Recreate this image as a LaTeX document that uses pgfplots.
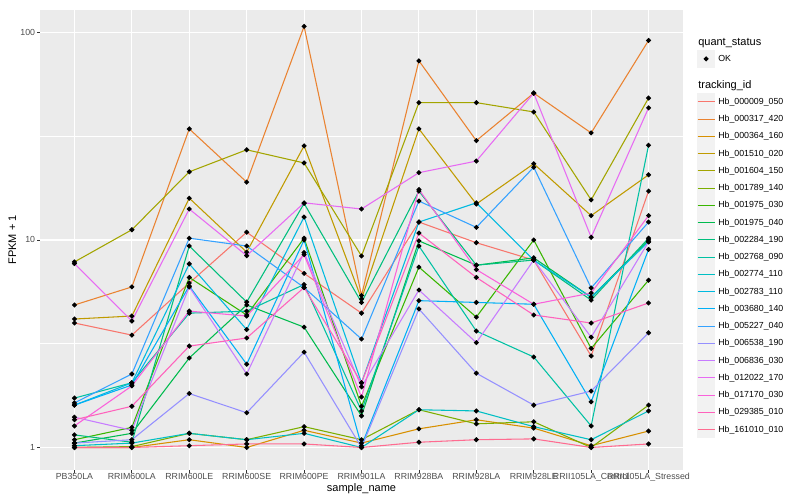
\documentclass[border=0pt]{standalone}
\usepackage{fontspec}
\setmainfont{Liberation Sans}
\usepackage{pgfplots}
\usepackage{pgfplotstable}
\pgfplotsset{compat=1.18}
\definecolor{c1}{HTML}{F8766D}
\definecolor{c2}{HTML}{EA8331}
\definecolor{c3}{HTML}{D89000}
\definecolor{c4}{HTML}{C09B00}
\definecolor{c5}{HTML}{A3A500}
\definecolor{c6}{HTML}{7CAE00}
\definecolor{c7}{HTML}{39B600}
\definecolor{c8}{HTML}{00BB4E}
\definecolor{c9}{HTML}{00BF7D}
\definecolor{c10}{HTML}{00C1A3}
\definecolor{c11}{HTML}{00BFC4}
\definecolor{c12}{HTML}{00BAE0}
\definecolor{c13}{HTML}{00B0F6}
\definecolor{c14}{HTML}{35A2FF}
\definecolor{c15}{HTML}{9590FF}
\definecolor{c16}{HTML}{C77CFF}
\definecolor{c17}{HTML}{E76BF3}
\definecolor{c18}{HTML}{FA62DB}
\definecolor{c19}{HTML}{FF62BC}
\definecolor{c20}{HTML}{FF6C91}
\definecolor{panelgrey}{HTML}{EBEBEB}
\definecolor{keyfill}{HTML}{F2F2F2}
\definecolor{grey30}{HTML}{4D4D4D}
\definecolor{grey20}{HTML}{333333}

\pgfplotstableread{
x s1 s2 s3 s4 s5 s6 s7 s8 s9 s10 s11 s12 s13 s14 s15 s16 s17 s18 s19 s20
0 3.98 4.86 1.0 4.16 7.84 1.0 1.09 1.05 1.15 1.73 1.02 1.60 1.60 1.64 1.05 1.40 7.7 1.27 1.36 1.0
1 3.48 5.94 1.0 4.30 11.2 1.01 1.25 1.17 1.06 2.05 1.05 2.05 2.0 2.26 1.09 1.21 4.07 1.98 1.58 1.0
2 6.2 34.3 1.09 15.9 21.3 1.17 6.6 2.70 9.35 4.44 1.17 7.67 6.0 10.2 1.82 5.94 14.1 4.54 3.08 1.02
3 10.9 19.0 1.0 8.74 27.2 1.09 4.35 4.86 5.02 4.54 1.09 3.7 2.52 9.35 1.47 2.26 8.4 4.3 3.37 1.04
4 6.9 107 1.21 28.4 23.5 1.26 10.2 3.8 15.0 6.1 1.17 12.9 10.0 5.9 2.88 8.7 15.1 8.5 5.9 1.04
5 4.44 5.4 1.05 5.2 8.37 1.09 1.58 1.42 5.0 1.5 1.0 2.05 1.02 3.33 1.0 1.96 14.1 1.75 2.05 1.0
6 12.2 73 1.23 34.3 45.9 1.52 7.4 9.9 17.2 9.35 1.52 12.2 5.1 15.4 4.65 5.74 21.1 17.5 10.8 1.06
7 9.7 30.1 1.36 14.9 45.9 1.30 4.25 7.56 7.56 3.64 1.50 15.1 5.0 11.5 2.28 3.2 24.0 7.2 6.6 1.09
8 8.0 51 1.24 23.3 41.4 1.33 10.0 8.2 8.0 2.73 1.26 8.0 4.9 22.4 1.60 8.0 51 4.9 4.35 1.10
9 2.76 32.8 1.02 13.1 15.6 1.0 3.0 5.3 5.13 1.27 1.09 5.3 1.66 5.87 1.87 3.4 10.3 5.55 3.98 1.0
10 17.2 91.5 1.20 20.6 48.3 1.60 6.4 10.0 10.2 28.6 1.50 9.8 9.0 12.2 3.57 9.8 43.3 13.1 4.97 1.04
}\data

\pgfplotsset{dots/.style={forget plot, only marks, mark=*, mark size=1.9pt, draw=black, fill=black, mark options={draw=black, fill=black}}}

\begin{document}
\begin{tikzpicture}
\path[use as bounding box] (0pt,0pt) rectangle (800pt,500pt);
\begin{axis}[
  at={(40pt,30pt)}, anchor=south west,
  scale only axis, width=643pt, height=460pt,
  ymode=log, log basis y=10, ymin=0.779, ymax=128.3,
  xmin=-0.6, xmax=10.6,
  xtick={0,1,2,3,4,5,6,7,8,9,10},
  xticklabels={PB350LA,RRIM600LA,RRIM600LE,RRIM600SE,RRIM600PE,RRIM901LA,RRIM928BA,RRIM928LA,RRIM928LE,RRII105LA\_Control,RRII105LA\_Stressed},
  ytick={1,10,100}, yticklabels={1,10,100},
  minor ytick={3.16228,31.6228},
  xmajorgrids, ymajorgrids, yminorgrids,
  major grid style={white, line width=1.07pt},
  minor grid style={white, line width=0.53pt},
  axis background/.style={fill=panelgrey},
  axis line style={draw=none},
  tick pos=left, tick align=outside,
  major tick length=2.75pt, minor tick length=0pt,
  tick style={grey20, line width=0.8pt},
  xticklabel style={font=\fontsize{8.8}{10}\selectfont, text=grey30, anchor=north, inner sep=0pt, yshift=0pt},
  yticklabel style={font=\fontsize{8.8}{10}\selectfont, text=grey30, anchor=east, inner sep=0pt, xshift=-2pt},
  xlabel={sample\_name},
  xlabel style={font=\fontsize{11}{13}\selectfont, at={(axis description cs:0.5,-0.0457)}, anchor=base, inner sep=0pt},
  ylabel={FPKM + 1},
  ylabel style={font=\fontsize{11}{13}\selectfont, at={(axis description cs:-0.0373,0.5)}, anchor=base, inner sep=0pt},
  legend cell align=left,
  legend style={at={(1.02177,0.947)}, anchor=north west, draw=none, fill=none,
    inner sep=0pt, row sep=0pt, column sep=3.2pt,
    font=\fontsize{8.8}{10}\selectfont, nodes={inner sep=0pt}},
  every axis plot/.append style={line width=1.07pt,
    legend image code/.code={\fill[keyfill] (0pt,-8.09pt) rectangle (16.78pt,8.09pt);
      \draw (0pt,0pt) -- (16.78pt,0pt);}},
]
\addlegendimage{legend image code/.code={\path[draw=none,fill=none] (0pt,-7.7pt) rectangle (0pt,8pt);}}
\addlegendentry{\hspace*{-19.98pt}\fontsize{11}{13}\selectfont quant\_status}
\addlegendimage{legend image code/.code={\fill[keyfill] (0pt,-8.09pt) rectangle (16.78pt,8.09pt);
      \fill[black] (8.39pt,0pt) circle (1.9pt);}}
\addlegendentry{OK}
\addlegendimage{legend image code/.code={\path[draw=none,fill=none] (0pt,-8.1pt) rectangle (0pt,17.6pt);}}
\addlegendentry{\hspace*{-19.98pt}\fontsize{11}{13}\selectfont tracking\_id}

\addplot[c1] table[x=x,y=s1]{\data}; \addlegendentry{Hb\_000009\_050}
\addplot[c2] table[x=x,y=s2]{\data}; \addlegendentry{Hb\_000317\_420}
\addplot[c3] table[x=x,y=s3]{\data}; \addlegendentry{Hb\_000364\_160}
\addplot[c4] table[x=x,y=s4]{\data}; \addlegendentry{Hb\_001510\_020}
\addplot[c5] table[x=x,y=s5]{\data}; \addlegendentry{Hb\_001604\_150}
\addplot[c6] table[x=x,y=s6]{\data}; \addlegendentry{Hb\_001789\_140}
\addplot[c7] table[x=x,y=s7]{\data}; \addlegendentry{Hb\_001975\_030}
\addplot[c8] table[x=x,y=s8]{\data}; \addlegendentry{Hb\_001975\_040}
\addplot[c9] table[x=x,y=s9]{\data}; \addlegendentry{Hb\_002284\_190}
\addplot[c10] table[x=x,y=s10]{\data}; \addlegendentry{Hb\_002768\_090}
\addplot[c11] table[x=x,y=s11]{\data}; \addlegendentry{Hb\_002774\_110}
\addplot[c12] table[x=x,y=s12]{\data}; \addlegendentry{Hb\_002783\_110}
\addplot[c13] table[x=x,y=s13]{\data}; \addlegendentry{Hb\_003680\_140}
\addplot[c14] table[x=x,y=s14]{\data}; \addlegendentry{Hb\_005227\_040}
\addplot[c15] table[x=x,y=s15]{\data}; \addlegendentry{Hb\_006538\_190}
\addplot[c16] table[x=x,y=s16]{\data}; \addlegendentry{Hb\_006836\_030}
\addplot[c17] table[x=x,y=s17]{\data}; \addlegendentry{Hb\_012022\_170}
\addplot[c18] table[x=x,y=s18]{\data}; \addlegendentry{Hb\_017170\_030}
\addplot[c19] table[x=x,y=s19]{\data}; \addlegendentry{Hb\_029385\_010}
\addplot[c20] table[x=x,y=s20]{\data}; \addlegendentry{Hb\_161010\_010}

\addplot[dots] table[x=x,y=s1]{\data};
\addplot[dots] table[x=x,y=s2]{\data};
\addplot[dots] table[x=x,y=s3]{\data};
\addplot[dots] table[x=x,y=s4]{\data};
\addplot[dots] table[x=x,y=s5]{\data};
\addplot[dots] table[x=x,y=s6]{\data};
\addplot[dots] table[x=x,y=s7]{\data};
\addplot[dots] table[x=x,y=s8]{\data};
\addplot[dots] table[x=x,y=s9]{\data};
\addplot[dots] table[x=x,y=s10]{\data};
\addplot[dots] table[x=x,y=s11]{\data};
\addplot[dots] table[x=x,y=s12]{\data};
\addplot[dots] table[x=x,y=s13]{\data};
\addplot[dots] table[x=x,y=s14]{\data};
\addplot[dots] table[x=x,y=s15]{\data};
\addplot[dots] table[x=x,y=s16]{\data};
\addplot[dots] table[x=x,y=s17]{\data};
\addplot[dots] table[x=x,y=s18]{\data};
\addplot[dots] table[x=x,y=s19]{\data};
\addplot[dots] table[x=x,y=s20]{\data};
\end{axis}
\end{tikzpicture}
\end{document}
